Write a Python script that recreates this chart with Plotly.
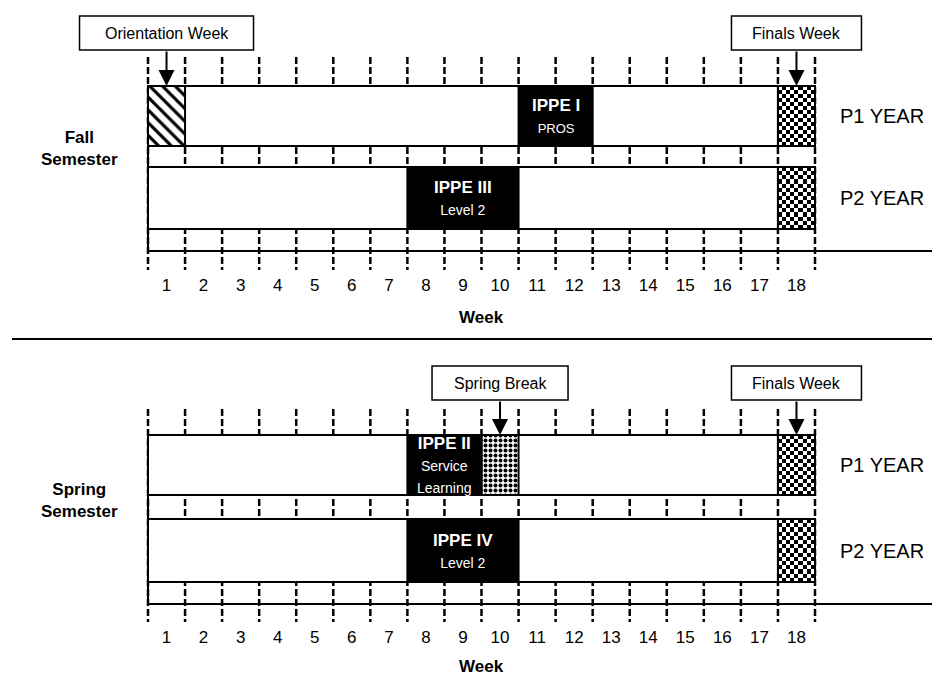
import plotly.graph_objects as go

# ---------------- data ----------------
weeks = list(range(1, 19))
semesters = ["Fall", "Spring"]
semester_titles = ["Fall<br>Semester", "Spring<br>Semester"]
years = ["P1 YEAR", "P2 YEAR"]

# IPPE experiences
ippe_sem = ["Fall", "Fall", "Spring", "Spring"]
ippe_year = ["P1 YEAR", "P2 YEAR", "P1 YEAR", "P2 YEAR"]
ippe_first = [11, 8, 8, 8]
ippe_last = [12, 10, 9, 10]
ippe_title = ["IPPE I", "IPPE III", "IPPE II", "IPPE IV"]
ippe_sub = ["PROS", "Level 2", "Service<br>Learning", "Level 2"]

# special weeks
orientation_week = 1      # Fall, P1 year
spring_break_week = 10    # Spring, P1 year
finals_week = 18          # both semesters, both years

# callouts: label, semester, week
callout_text = ["Orientation Week", "Finals Week", "Spring Break", "Finals Week"]
callout_sem = ["Fall", "Fall", "Spring", "Spring"]
callout_week = [orientation_week, finals_week, spring_break_week, finals_week]

# ---------------- layout (page pixels) ----------------
W, H = 940, 675
OFF = 8                                # page body margin
PX_LEFT, PX_RIGHT = 148, 815           # left edge of week 1, right edge of week 18
PXW = (PX_RIGHT - PX_LEFT) / 18.0


def px2x(px):
    return 0.5 + (px - PX_LEFT) / PXW


LAY = {
    "Fall": dict(dash_top=57, rows={"P1 YEAR": (86, 146), "P2 YEAR": (167, 229)},
                 base=251, dash_bot=270, ticks=287, week=317, call=(16, 50), label=148),
    "Spring": dict(dash_top=409, rows={"P1 YEAR": (435, 495), "P2 YEAR": (519, 582)},
                   base=604, dash_bot=622, ticks=639, week=666, call=(366, 400), label=500),
}
CALL_W = {"Orientation Week": 174, "Finals Week": 130, "Spring Break": 136}
FONT = "Liberation Sans"
LINE = 2

fig = go.Figure()
shapes = []
annotations = []


def hbar(first, last, top, bot, **kw):
    return go.Bar(orientation="h", base=[first - 0.5], x=[last - first + 1],
                  y=[(top + bot) / 2], width=[bot - top], showlegend=False,
                  hoverinfo="skip", **kw)


for si, sem in enumerate(semesters):
    L = LAY[sem]
    # dashed week boundaries
    for b in range(0, 19):
        xb = b + 0.5
        shapes.append(dict(type="line", layer="below", x0=xb, x1=xb, y0=L["dash_top"], y1=L["dash_bot"],
                           line=dict(color="black", width=2.5, dash="7px,3px")))
    # row boxes (white)
    for yr in years:
        top, bot = L["rows"][yr]
        fig.add_trace(hbar(1, finals_week - 1, top, bot,
                           marker=dict(color="white", line=dict(color="black", width=LINE))))
        # finals checker texture
        nr, nc = 15, 9
        z = [[(i + j) % 2 for j in range(nc)] for i in range(nr)]
        fig.add_trace(go.Heatmap(z=z, x0=finals_week - 0.5 + 0.5 / nc, dx=1.0 / nc,
                                 y0=top + (bot - top) / nr / 2, dy=(bot - top) / nr,
                                 colorscale=[[0, "white"], [1, "black"]], zmin=0, zmax=1,
                                 showscale=False, hoverinfo="skip"))
        fig.add_trace(hbar(finals_week, finals_week, top, bot,
                           marker=dict(color="rgba(0,0,0,0)", line=dict(color="black", width=LINE))))
        # year label
        annotations.append(dict(x=px2x(838), y=(top + bot) / 2, text=yr, showarrow=False,
                                xanchor="left", yanchor="middle",
                                font=dict(family=FONT, size=20, color="black")))
    # left border and base line
    shapes.append(dict(type="line", x0=0.5, x1=0.5, y0=L["rows"]["P1 YEAR"][0], y1=L["base"],
                       line=dict(color="black", width=LINE)))
    shapes.append(dict(type="line", x0=0.5, x1=px2x(W), y0=L["base"], y1=L["base"],
                       line=dict(color="black", width=LINE)))
    # week numbers
    fig.add_trace(go.Scatter(x=weeks, y=[L["ticks"]] * len(weeks), mode="text",
                             text=[str(w) for w in weeks], showlegend=False, hoverinfo="skip",
                             textfont=dict(family=FONT, size=17, color="black")))
    annotations.append(dict(x=(weeks[0] + weeks[-1]) / 2, y=L["week"], text="<b>Week</b>",
                            showarrow=False, font=dict(family=FONT, size=17, color="black")))
    annotations.append(dict(x=px2x(79), y=L["label"], text="<b>" + semester_titles[si] + "</b>",
                            showarrow=False, font=dict(family=FONT, size=17, color="black")))

# orientation week (hatched)
top, bot = LAY["Fall"]["rows"]["P1 YEAR"]
fig.add_trace(hbar(orientation_week, orientation_week, top, bot,
                   marker=dict(color="white", line=dict(color="black", width=LINE),
                               pattern=dict(shape="\\", fgcolor="black", bgcolor="white",
                                            size=9, solidity=0.35, fgopacity=1))))
# spring break (stippled)
top, bot = LAY["Spring"]["rows"]["P1 YEAR"]
fig.add_trace(hbar(spring_break_week, spring_break_week, top, bot,
                   marker=dict(color="white", line=dict(color="black", width=LINE),
                               pattern=dict(shape=".", fgcolor="black", bgcolor="white",
                                            size=5, solidity=0.5, fgopacity=1))))

# IPPE blocks
for sem, yr, f, l, t, s in zip(ippe_sem, ippe_year, ippe_first, ippe_last, ippe_title, ippe_sub):
    top, bot = LAY[sem]["rows"][yr]
    fig.add_trace(hbar(f, l, top, bot, marker=dict(color="black", line=dict(color="black", width=LINE))))
    sub_size = 13 if s == "PROS" else 14
    annotations.append(dict(x=(f + l) / 2, y=(top + bot) / 2,
                            text="<b>%s</b><br><span style='font-size:%dpx'>%s</span>" % (t, sub_size, s),
                            showarrow=False, font=dict(family=FONT, size=17, color="white")))

# callouts
for txt, sem, wk in zip(callout_text, callout_sem, callout_week):
    L = LAY[sem]
    y0, y1 = L["call"]
    half = CALL_W[txt] / 2 / PXW
    shapes.append(dict(type="rect", x0=wk - half, x1=wk + half, y0=y0, y1=y1,
                       line=dict(color="black", width=1.5), fillcolor="white"))
    annotations.append(dict(x=wk, y=(y0 + y1) / 2, text=txt, showarrow=False,
                            font=dict(family=FONT, size=16, color="black")))
    annotations.append(dict(x=wk, y=L["rows"]["P1 YEAR"][0], ax=wk, ay=y1, axref="x", ayref="y",
                            text="", showarrow=True, arrowhead=2, arrowsize=1.6, arrowwidth=2,
                            arrowcolor="black", standoff=0, startstandoff=0))

# separator between semesters
shapes.append(dict(type="line", x0=px2x(12), x1=px2x(W), y0=339, y1=339,
                   line=dict(color="black", width=2)))

fig.update_layout(
    width=W - OFF, height=H - OFF, autosize=False,
    margin=dict(l=0, r=0, t=0, b=0),
    paper_bgcolor="white", plot_bgcolor="white",
    barmode="overlay", showlegend=False,
    xaxis=dict(range=[px2x(OFF), px2x(W)], visible=False, fixedrange=True),
    yaxis=dict(range=[H, OFF], visible=False, fixedrange=True),
    shapes=shapes, annotations=annotations,
)

fig.write_html("out.html")
